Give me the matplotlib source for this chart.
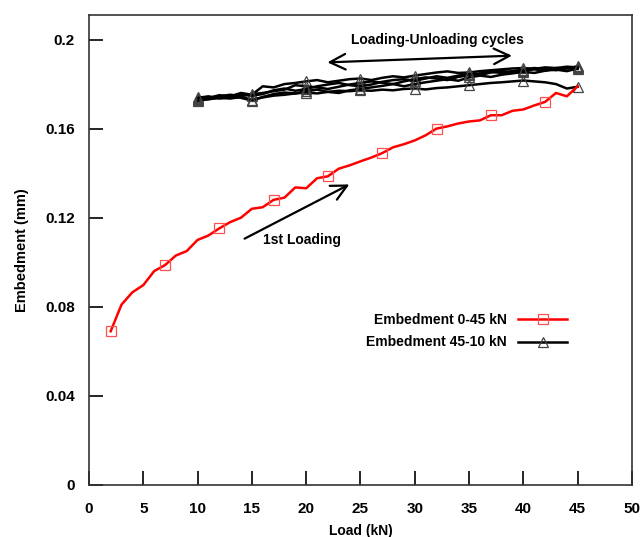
import numpy as np
import matplotlib.pyplot as plt
from matplotlib.lines import Line2D

plt.rcParams['font.family'] = ['Liberation Sans', 'DejaVu Sans']
plt.rcParams['font.weight'] = 'bold'

# first loading, 2..45 kN
load_first = np.arange(2, 46)
emb_first = [0.0690, 0.0810, 0.0865, 0.0897, 0.0960, 0.0987, 0.1030, 0.1050,
             0.1100, 0.1120, 0.1152, 0.1180, 0.1200, 0.1240, 0.1247, 0.1280,
             0.1290, 0.1336, 0.1332, 0.1377, 0.1386, 0.1420, 0.1435, 0.1453,
             0.1470, 0.1490, 0.1516, 0.1530, 0.1547, 0.1570, 0.1600, 0.1610,
             0.1623, 0.1632, 0.1637, 0.1660, 0.1660, 0.1680, 0.1686, 0.1704,
             0.1720, 0.1760, 0.1745, 0.1790]

# loading-unloading cycles, 10..45 kN
load_cyc = np.arange(10, 46)
cycles = [
    [0.1735, 0.1732, 0.1738, 0.1735, 0.1742, 0.1730, 0.1740, 0.1748, 0.1752, 0.1758,
     0.1762, 0.1758, 0.1765, 0.1770, 0.1768, 0.1772, 0.1770, 0.1775, 0.1772, 0.1778,
     0.1780, 0.1776, 0.1782, 0.1785, 0.1790, 0.1795, 0.1800, 0.1805, 0.1808, 0.1812,
     0.1816, 0.1812, 0.1808, 0.1800, 0.1780, 0.1788],
    [0.1730, 0.1738, 0.1750, 0.1745, 0.1760, 0.1752, 0.1790, 0.1785, 0.1800, 0.1805,
     0.1812, 0.1818, 0.1808, 0.1815, 0.1822, 0.1825, 0.1818, 0.1828, 0.1835, 0.1830,
     0.1838, 0.1845, 0.1852, 0.1857, 0.1850, 0.1852, 0.1858, 0.1862, 0.1866, 0.1870,
     0.1872, 0.1868, 0.1875, 0.1872, 0.1870, 0.1880],
    [0.1740, 0.1736, 0.1745, 0.1752, 0.1746, 0.1755, 0.1760, 0.1768, 0.1775, 0.1795,
     0.1790, 0.1785, 0.1778, 0.1788, 0.1798, 0.1805, 0.1812, 0.1806, 0.1800, 0.1812,
     0.1822, 0.1830, 0.1825, 0.1818, 0.1832, 0.1840, 0.1848, 0.1855, 0.1850, 0.1858,
     0.1865, 0.1872, 0.1868, 0.1862, 0.1872, 0.1868],
    [0.1725, 0.1732, 0.1740, 0.1748, 0.1738, 0.1726, 0.1742, 0.1755, 0.1762, 0.1758,
     0.1768, 0.1775, 0.1765, 0.1760, 0.1772, 0.1778, 0.1785, 0.1792, 0.1800, 0.1790,
     0.1800, 0.1808, 0.1815, 0.1822, 0.1815, 0.1830, 0.1838, 0.1832, 0.1842, 0.1848,
     0.1855, 0.1850, 0.1860, 0.1865, 0.1858, 0.1870],
    [0.1738, 0.1745, 0.1735, 0.1742, 0.1752, 0.1748, 0.1755, 0.1772, 0.1780, 0.1770,
     0.1778, 0.1790, 0.1798, 0.1805, 0.1795, 0.1790, 0.1798, 0.1810, 0.1818, 0.1822,
     0.1815, 0.1825, 0.1835, 0.1828, 0.1838, 0.1845, 0.1840, 0.1852, 0.1858, 0.1855,
     0.1860, 0.1866, 0.1860, 0.1872, 0.1878, 0.1875],
]

fig = plt.figure(figsize=(6.4, 5.37), dpi=100)
ax = fig.add_axes([0.139, 0.097, 0.8485, 0.875])

black_style = dict(color='black', lw=1.8, marker='^', markersize=7, markerfacecolor='none',
                   markeredgecolor='#444444', markeredgewidth=0.9)
red_style = dict(color='red', lw=1.8, marker='s', markersize=7, markerfacecolor='none',
                 markeredgecolor='#ff5050', markeredgewidth=0.9)

for c in cycles:
    ax.plot(load_cyc, c, markevery=slice(0, None, 5), zorder=2, **black_style)

ax.plot(load_first, emb_first, markevery=slice(0, None, 5), zorder=3, **red_style)

ax.set_xlim(0, 50)
ax.set_ylim(0, 0.211)
ax.set_xticks(np.arange(0, 51, 5))
ax.set_yticks([0, 0.04, 0.08, 0.12, 0.16, 0.2])
ax.set_yticklabels(['0', '0.04', '0.08', '0.12', '0.16', '0.2'])
ax.tick_params(direction='in', length=10, width=1.2, labelsize=11, pad=12)
ax.tick_params(axis='y', pad=10)
for s in ax.spines.values():
    s.set_linewidth(1.2)
    s.set_color('#333333')

ax.set_xlabel('Load (kN)', fontsize=10, fontweight='bold', labelpad=6)
ax.set_ylabel('Embedment (mm)', fontsize=10.5, fontweight='bold', labelpad=12)

ax.annotate('', xy=(21.7, 0.1897), xytext=(39.2, 0.1928),
            arrowprops=dict(arrowstyle='<->', color='black', lw=1.6, mutation_scale=28))
ax.text(32.1, 0.2, 'Loading-Unloading cycles', ha='center', va='center', fontsize=10, fontweight='bold')
ax.annotate('', xy=(24.2, 0.1355), xytext=(14.1, 0.110),
            arrowprops=dict(arrowstyle='->', color='black', lw=1.6, mutation_scale=28))
ax.text(16.0, 0.1100, '1st Loading', ha='left', va='center', fontsize=10, fontweight='bold')

handles = [Line2D([], [], **red_style), Line2D([], [], **black_style)]
labels = ['Embedment 0-45 kN', 'Embedment 45-10 kN']
ax.legend(handles, labels, loc='center right', bbox_to_anchor=(0.903, 0.327), frameon=False,
          markerfirst=False, fontsize=10, handlelength=3.5, labelspacing=0.6)

fig.savefig('out.png', dpi=100)
